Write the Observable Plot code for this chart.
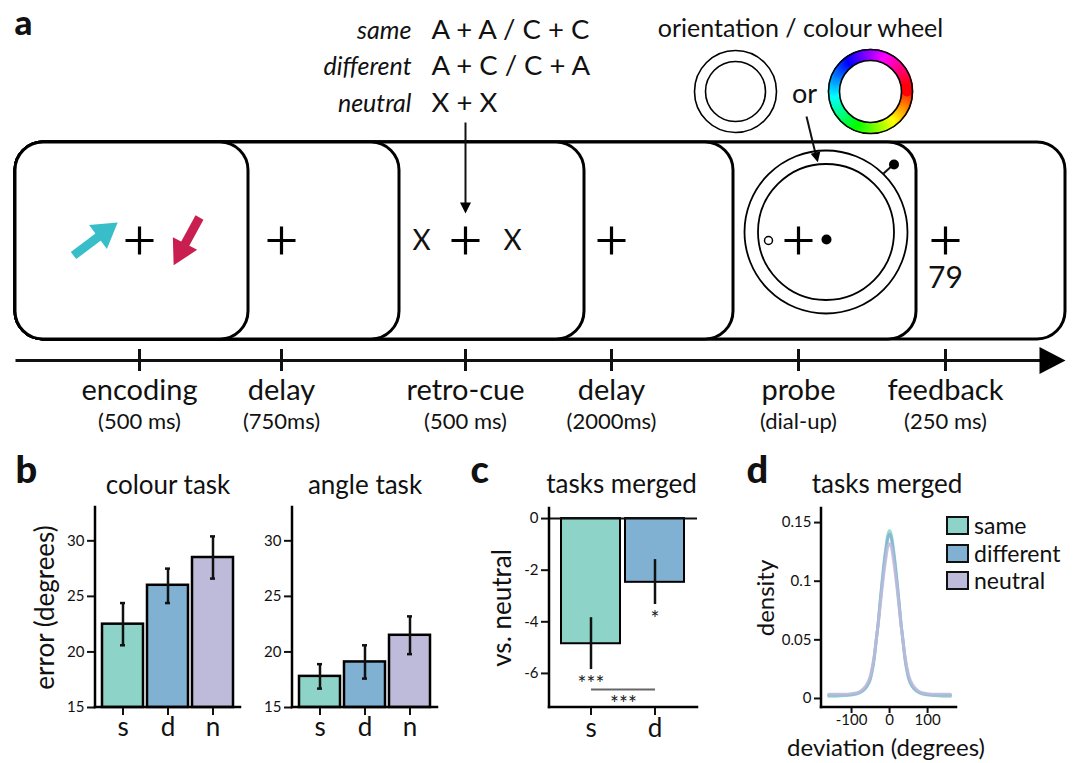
<!DOCTYPE html>
<html>
<head>
<meta charset="utf-8">
<script src="https://cdn.jsdelivr.net/npm/d3@7"></script>
<script src="https://cdn.jsdelivr.net/npm/@observablehq/plot@0.6"></script>
<style>
  html, body { margin: 0; padding: 0; background: #fff; }
  #fig { position: relative; width: 1077px; height: 763px; overflow: hidden; background: #fff;
         font-family: Lato, "Open Sans", sans-serif; color: #111; }
  #fig > svg, #fig > .legend { position: absolute; }
</style>
</head>
<body>
<div id="fig"></div>
<script>
// ---------------- DATA ----------------
// panel a : trial schematic
const cueTypes = ["same", "different", "neutral"];
const cuePairs = ["A + A / C + C", "A + C / C + A", "X + X"];
const stageNames = ["encoding", "delay", "retro-cue", "delay", "probe", "feedback"];
const stageDurations = ["(500 ms)", "(750ms)", "(500 ms)", "(2000ms)", "(dial-up)", "(250 ms)"];
const stageTime = [139, 281, 465, 611, 798, 945];          // position of each stage on the schematic time line
const frameEnds = [248, 399, 584, 733, 916, 1065];         // right edge of each stacked screen
const feedbackValue = "79";

// panels b-d
const conditions = ["s", "d", "n"];
const conditionNames = ["same", "different", "neutral"];
const condColours = ["#8dd3c7", "#80b1d3", "#bebada"];

const colourErr = [22.5, 26.0, 28.5];
const colourLo  = [20.6, 24.4, 26.6];
const colourHi  = [24.4, 27.5, 30.4];
const angleErr  = [17.8, 19.1, 21.5];
const angleLo   = [16.7, 17.6, 19.8];
const angleHi   = [18.9, 20.6, 23.2];
const errTicks  = [15, 20, 25, 30];

const mergedCond = ["s", "d"];
const mergedDiff = [-4.85, -2.47];
const mergedLo   = [-5.85, -3.33];
const mergedHi   = [-3.84, -1.59];
const mergedSig  = ["***", "*"];
const pairSig    = "***";
const mergedTicks = [0, -2, -4, -6];

const devX = [-160,-140,-120,-100,-80,-70,-60,-50,-40,-35,-30,-25,-20,-15,-10,-5,0,5,10,15,20,25,30,35,40,50,60,70,80,100,120,140,160];
const densSame    = [0.002,0.002,0.0025,0.003,0.0045,0.0065,0.010,0.017,0.035,0.050,0.064,0.082,0.099,0.115,0.128,0.139,0.143,0.139,0.128,0.115,0.099,0.082,0.064,0.050,0.035,0.017,0.010,0.0065,0.0045,0.003,0.0025,0.002,0.002];
const densDiff    = [0.003,0.003,0.003,0.0035,0.005,0.007,0.0105,0.018,0.036,0.050,0.064,0.081,0.097,0.112,0.125,0.136,0.140,0.136,0.125,0.112,0.097,0.081,0.064,0.050,0.036,0.018,0.0105,0.007,0.005,0.0035,0.003,0.003,0.003];
const densNeutral = [0.0035,0.0035,0.0035,0.004,0.0055,0.008,0.012,0.020,0.037,0.050,0.063,0.078,0.093,0.107,0.119,0.129,0.132,0.129,0.119,0.107,0.093,0.078,0.063,0.050,0.037,0.020,0.012,0.008,0.0055,0.004,0.0035,0.0035,0.0035];
const devTicks  = [-100, 0, 100];
const densTicks = [0, 0.05, 0.1, 0.15];

// ---------------- HELPERS ----------------
const FONT = "Lato, 'Open Sans', sans-serif";
const fig = document.getElementById("fig");
const baseStyle = {fontFamily: FONT, background: "transparent", overflow: "visible", color: "#111"};
function place(svg, left, top) {
  svg.style.position = "absolute";
  svg.style.left = left + "px";
  svg.style.top = top + "px";
  fig.appendChild(svg);
}
// thin cross (fixation)
const crossSymbol = {draw(ctx, size) {
  const r = Math.sqrt(size / Math.PI);
  ctx.moveTo(-r, 0); ctx.lineTo(r, 0); ctx.moveTo(0, -r); ctx.lineTo(0, r);
}};
// filled arrow head: origin at base middle, tip at distance r in direction deg (clockwise from +x)
const headSymbol = (deg, w) => ({draw(ctx, size) {
  const r = Math.sqrt(size / Math.PI), a = deg * Math.PI / 180, c = Math.cos(a), s = Math.sin(a);
  const pts = [[r, 0], [0, -w * r], [0, w * r]].map(([x, y]) => [x * c - y * s, x * s + y * c]);
  ctx.moveTo(pts[0][0], pts[0][1]); ctx.lineTo(pts[1][0], pts[1][1]); ctx.lineTo(pts[2][0], pts[2][1]); ctx.closePath();
}});
// L-shaped axis lines along the frame
function axisLines(sides, sw = 2.5) {
  return (index, scales, values, dims) => {
    const {width, height, marginTop, marginRight, marginBottom, marginLeft} = dims;
    const g = d3.create("svg:g").attr("stroke", "black").attr("stroke-width", sw).attr("stroke-linecap", "square");
    if (sides.includes("left")) g.append("line").attr("x1", marginLeft).attr("x2", marginLeft).attr("y1", marginTop).attr("y2", height - marginBottom);
    if (sides.includes("bottom")) g.append("line").attr("x1", marginLeft).attr("x2", width - marginRight).attr("y1", height - marginBottom).attr("y2", height - marginBottom);
    return g.node();
  };
}

// ---------------- PANEL A : schematic ----------------
const CYAN = "#38bec9", CRIMSON = "#c81f50";
const wheelHues = d3.range(0, 360, 2);
const schematic = Plot.plot({
  width: 1077, height: 450, margin: 0,
  x: {domain: [0, 1077], range: [0, 1077], axis: null},
  y: {domain: [0, 450], range: [0, 450], axis: null},
  color: {type: "identity"},
  style: baseStyle,
  marks: [
    Plot.text(["a"], {x: 14, y: 34, textAnchor: "start", lineAnchor: "bottom", fontSize: 35, fontWeight: 900}),
    // cue conditions
    Plot.text(cueTypes, {x: 411, y: (d, i) => 38 + i * 36.5, textAnchor: "end", lineAnchor: "bottom", fontSize: 25, fontStyle: "italic"}),
    Plot.text(cuePairs, {x: 431, y: (d, i) => 38 + i * 36.5, textAnchor: "start", lineAnchor: "bottom", fontSize: 27.5}),
    // wheels
    Plot.text(["orientation / colour wheel"], {x: 800, y: 36, lineAnchor: "bottom", fontSize: 25}),
    Plot.dot([0], {x: 735, y: 91, r: 41, fill: "none", stroke: "black", strokeWidth: 1.6}),
    Plot.dot([0], {x: 735, y: 91, r: 30, fill: "none", stroke: "black", strokeWidth: 1.6}),
    Plot.dot(wheelHues, {x: h => 870 + 36.5 * Math.cos(h * Math.PI / 180), y: h => 91 + 36.5 * Math.sin(h * Math.PI / 180), r: 6.2, fill: h => d3.hsl(h, 1, 0.5).formatHex(), stroke: "none"}),
    Plot.dot([0], {x: 870, y: 91, r: 42, fill: "none", stroke: "black", strokeWidth: 1.6}),
    Plot.dot([0], {x: 870, y: 91, r: 31, fill: "white", stroke: "black", strokeWidth: 1.6}),
    Plot.text(["or"], {x: 804, y: 102, lineAnchor: "bottom", fontSize: 27}),
    // stacked screens (last drawn first)
    Plot.rect(frameEnds.slice().reverse(), {x1: 15, x2: d => d, y1: 142, y2: 339, rx: 28, fill: "white", stroke: "black", strokeWidth: 3}),
    // cue arrow and probe arrow (drawn over the screens)
    Plot.link([0], {x1: 465, x2: 465, y1: 122, y2: 203, strokeWidth: 2}),
    Plot.dot([0], {x: 465, y: 202, r: 11, symbol: headSymbol(90, 0.5), fill: "black", stroke: "none"}),
    Plot.link([0], {x1: 806, y1: 116, x2: 815, y2: 153, strokeWidth: 2}),
    Plot.dot([0], {x: 815, y: 152, r: 10, symbol: headSymbol(76.5, 0.5), fill: "black", stroke: "none"}),
    // encoding arrows
    Plot.link([0], {x1: 73, y1: 255, x2: 99, y2: 235.5, stroke: CYAN, strokeWidth: 9}),
    Plot.dot([0], {x: 97.5, y: 236.5, r: 24.5, symbol: headSymbol(-36.6, 0.61), fill: CYAN, stroke: "none"}),
    Plot.link([0], {x1: 199, y1: 217, x2: 184, y2: 244.5, stroke: CRIMSON, strokeWidth: 9}),
    Plot.dot([0], {x: 184.5, y: 243, r: 24.5, symbol: headSymbol(117.6, 0.56), fill: CRIMSON, stroke: "none"}),
    // fixation crosses
    Plot.dot(stageTime, {x: d => d, y: 240, r: 14, symbol: crossSymbol, fill: "none", stroke: "black", strokeWidth: 3.2}),
    // retro-cue placeholders
    Plot.text(["X", "X"], {x: [421, 512], y: 241, fontSize: 28}),
    // probe dial
    Plot.dot([0], {x: 825.5, y: 231.5, r: 81.5, fill: "none", stroke: "black", strokeWidth: 1.8}),
    Plot.dot([0], {x: 825.5, y: 231.5, r: 68, fill: "none", stroke: "black", strokeWidth: 1.8}),
    Plot.link([0], {x1: 883, y1: 173, x2: 893, y2: 164, strokeWidth: 2}),
    Plot.dot([0], {x: 893.5, y: 164, r: 5, fill: "black", stroke: "none"}),
    Plot.dot([0], {x: 768, y: 240, r: 4, fill: "white", stroke: "black", strokeWidth: 1.5}),
    Plot.dot([0], {x: 826, y: 239, r: 5, fill: "black", stroke: "none"}),
    // feedback
    Plot.text([feedbackValue], {x: 945, y: 287, lineAnchor: "bottom", fontSize: 30}),
    // timeline
    Plot.link([0], {x1: 15, y1: 360, x2: 1041, y2: 360, strokeWidth: 3}),
    Plot.dot([0], {x: 1039, y: 360, r: 26, symbol: headSymbol(0, 0.52), fill: "black", stroke: "none"}),
    Plot.ruleX(stageTime, {y1: 349, y2: 371, strokeWidth: 3}),
    Plot.text(stageNames, {x: stageTime, y: 399, lineAnchor: "bottom", fontSize: 29}),
    Plot.text(stageDurations, {x: stageTime, y: 428, lineAnchor: "bottom", fontSize: 22})
  ]
});
place(schematic, 0, 0);

// ---------------- PANEL B ----------------
function errorPanel({title, means, lows, highs, width, marginLeft, marginRight, extra}) {
  const rows = conditions.map((c, i) => ({cond: c, mean: means[i], lo: lows[i], hi: highs[i]}));
  return Plot.plot({
    width, height: 303, marginLeft, marginRight, marginTop: 47, marginBottom: 56,
    x: {domain: conditions, paddingInner: 0.1, paddingOuter: 0.13},
    y: {domain: [15, 33]},
    color: {domain: conditions, range: condColours},
    style: baseStyle,
    marks: [
      Plot.barY(rows, {x: "cond", y1: 15, y2: "mean", fill: "cond", stroke: "black", strokeWidth: 2.5}),
      Plot.ruleX(rows, {x: "cond", y1: "lo", y2: "hi", strokeWidth: 2.5}),
      Plot.tickY(rows, {x: "cond", y: "lo", strokeWidth: 2.5, insetLeft: 18, insetRight: 18}),
      Plot.tickY(rows, {x: "cond", y: "hi", strokeWidth: 2.5, insetLeft: 18, insetRight: 18}),
      Plot.axisY(errTicks, {tickSize: 8, tickPadding: 3, fontSize: 15, strokeWidth: 2, tickFormat: d => String(d), label: null}),
      Plot.axisX(conditions, {tickSize: 8, tickPadding: 2, fontSize: 26, strokeWidth: 2, label: null}),
      axisLines(["left", "bottom"]),
      Plot.text([title], {frameAnchor: "top", dy: -14, lineAnchor: "bottom", fontSize: 26}),
      ...extra
    ]
  });
}
const colourPlot = errorPanel({
  title: "colour task", means: colourErr, lows: colourLo, highs: colourHi,
  width: 250, marginLeft: 95, marginRight: 10,
  extra: [
    Plot.text(["b"], {frameAnchor: "top-left", dx: -80, dy: -25, textAnchor: "start", lineAnchor: "bottom", fontSize: 38, fontWeight: 900}),
    Plot.text(["error (degrees)"], {frameAnchor: "left", dx: -50, rotate: -90, textAnchor: "middle", fontSize: 26})
  ]
});
place(colourPlot, 0, 460);
const anglePlot = errorPanel({
  title: "angle task", means: angleErr, lows: angleLo, highs: angleHi,
  width: 250, marginLeft: 92, marginRight: 13, extra: []
});
place(anglePlot, 200, 460);

// ---------------- PANEL C ----------------
const mergedRows = mergedCond.map((c, i) => ({cond: c, diff: mergedDiff[i], lo: mergedLo[i], hi: mergedHi[i], sig: mergedSig[i]}));
const mergedPlot = Plot.plot({
  width: 250, height: 303, marginLeft: 89, marginRight: 13, marginTop: 48, marginBottom: 56,
  x: {domain: mergedCond, paddingInner: 0.077, paddingOuter: 0.18},
  y: {domain: [-7.32, 0.39]},
  color: {domain: conditions, range: condColours},
  style: baseStyle,
  marks: [
    Plot.barY(mergedRows, {x: "cond", y1: 0, y2: "diff", fill: "cond", stroke: "black", strokeWidth: 2}),
    Plot.ruleY([0], {strokeWidth: 2}),
    Plot.ruleX(mergedRows, {x: "cond", y1: "lo", y2: "hi", strokeWidth: 2.5}),
    Plot.text(mergedRows, {x: "cond", y: "lo", text: "sig", dy: 15, fontSize: 21, fill: "#222"}),
    Plot.link([pairSig], {x1: () => mergedCond[0], x2: () => mergedCond[1], y1: -6.62, y2: -6.62, stroke: "#666", strokeWidth: 2}),
    Plot.text([pairSig], {frameAnchor: "bottom", dy: 3, fontSize: 21, fill: "#222"}),
    Plot.axisY(mergedTicks, {tickSize: 8, tickPadding: 3, fontSize: 15, strokeWidth: 2, tickFormat: d => String(d), label: null}),
    Plot.axisX(mergedCond, {tickSize: 8, tickPadding: 3, fontSize: 26, strokeWidth: 2, label: null}),
    axisLines(["left", "bottom"]),
    Plot.text(["tasks merged"], {frameAnchor: "top", dy: -16, dx: -2, lineAnchor: "bottom", fontSize: 26}),
    Plot.text(["c"], {frameAnchor: "top-left", dx: -79, dy: -26, textAnchor: "start", lineAnchor: "bottom", fontSize: 38, fontWeight: 900}),
    Plot.text(["vs. neutral"], {frameAnchor: "left", dx: -47, rotate: -90, textAnchor: "middle", fontSize: 26})
  ]
});
place(mergedPlot, 460, 460);

// ---------------- PANEL D ----------------
const densRows = [
  ...devX.map((x, i) => ({cond: conditionNames[0], dev: x, density: densSame[i]})),
  ...devX.map((x, i) => ({cond: conditionNames[1], dev: x, density: densDiff[i]})),
  ...devX.map((x, i) => ({cond: conditionNames[2], dev: x, density: densNeutral[i]}))
];
const densPlot = Plot.plot({
  width: 337, height: 303, marginLeft: 81, marginRight: 121, marginTop: 48, marginBottom: 56,
  x: {domain: [-179, 176]},
  y: {domain: [-0.0077, 0.162]},
  color: {domain: conditionNames, range: condColours},
  style: baseStyle,
  marks: [
    Plot.line(densRows, {x: "dev", y: "density", z: "cond", stroke: "cond", strokeWidth: 3, strokeOpacity: 0.85, curve: "monotone-x"}),
    Plot.axisY(densTicks, {tickSize: 7, tickPadding: 3, fontSize: 15, strokeWidth: 2, tickFormat: d => String(d), label: null}),
    Plot.axisX(devTicks, {tickSize: 6, tickPadding: 1, fontSize: 15, strokeWidth: 2, tickFormat: d => String(d), label: null}),
    axisLines(["left", "bottom"]),
    Plot.text(["tasks merged"], {frameAnchor: "top", dy: -16, dx: -2, lineAnchor: "bottom", fontSize: 26}),
    Plot.text(["d"], {frameAnchor: "top-left", dx: -75, dy: -26, textAnchor: "start", lineAnchor: "bottom", fontSize: 38, fontWeight: 900}),
    Plot.text(["density"], {frameAnchor: "left", dx: -55, dy: -10, rotate: -90, textAnchor: "middle", fontSize: 24}),
    Plot.text(["deviation (degrees)"], {frameAnchor: "bottom", dx: -3, dy: 48, lineAnchor: "bottom", fontSize: 24})
  ]
});
place(densPlot, 740, 460);

// legend
const legend = d3.select(fig).append("div").attr("class", "legend")
  .style("left", "946px").style("top", "512px").style("font-family", FONT);
conditionNames.forEach((name, i) => {
  const row = legend.append("div").style("display", "flex").style("align-items", "center").style("height", "27.5px");
  row.append("div").style("width", "23px").style("height", "19px").style("box-sizing", "border-box")
    .style("border", "2px solid #111").style("background", condColours[i]).style("margin-right", "5px");
  row.append("span").text(name).style("font-size", "23px").style("line-height", "27px").style("color", "#111");
});
</script>
</body>
</html>
